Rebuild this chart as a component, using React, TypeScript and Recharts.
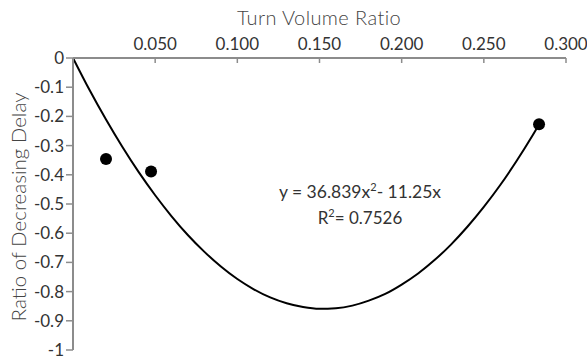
import React from 'react';
import { ComposedChart, XAxis, YAxis, Line, Scatter, Customized } from 'recharts';

// Trend line (read along the fitted curve y = 36.839x² - 11.25x)
const trendX = [0, 0.01, 0.02, 0.03, 0.04, 0.05, 0.06, 0.07, 0.08, 0.09, 0.1, 0.11, 0.12, 0.13, 0.14, 0.15, 0.16, 0.17, 0.18, 0.19, 0.2, 0.21, 0.22, 0.23, 0.24, 0.25, 0.26, 0.27, 0.28, 0.2836];
const trendY = [0, -0.109, -0.21, -0.304, -0.391, -0.47, -0.542, -0.607, -0.664, -0.714, -0.757, -0.792, -0.82, -0.84, -0.853, -0.859, -0.857, -0.848, -0.831, -0.808, -0.776, -0.738, -0.692, -0.639, -0.578, -0.51, -0.435, -0.352, -0.262, -0.228];

// Observed points
const pointX = [0.0201, 0.0475, 0.2836];
const pointY = [-0.346, -0.389, -0.227];

const xTicks = [0, 0.05, 0.1, 0.15, 0.2, 0.25, 0.3];
const yTicks = [0, -0.1, -0.2, -0.3, -0.4, -0.5, -0.6, -0.7, -0.8, -0.9, -1];

const xTitle = 'Turn Volume Ratio';
const yTitle = 'Ratio of Decreasing Delay';
const eqMain = 'y = 36.839x';
const eqTail = '- 11.25x';
const r2Main = 'R';
const r2Tail = '= 0.7526';

const trend = trendX.map((x, i) => ({ x, y: trendY[i] }));
const points = pointX.map((x, i) => ({ x, y: pointY[i] }));

const FONT = 'Lato, "Open Sans", sans-serif';
const AXIS = '#8c8c8c';
const TXT = '#333';

const XTick = (props: any) => {
  const { x, y, payload } = props;
  return (
    <g>
      <line x1={x} x2={x} y1={y + 8} y2={y + 13} stroke={AXIS} strokeWidth={1.5} />
      {payload.value !== 0 && (
        <text x={x} y={y} textAnchor="middle" fontSize={17} fontFamily={FONT} fill={TXT}>
          {payload.value.toFixed(3)}
        </text>
      )}
    </g>
  );
};

const YTick = (props: any) => {
  const { x, y, payload } = props;
  const v = payload.value;
  const s = v === 0 ? '0' : v === -1 ? '-1' : v.toFixed(1);
  return (
    <text x={x} y={y} dy={6} textAnchor="end" fontSize={17} fontFamily={FONT} fill={TXT}>
      {s}
    </text>
  );
};

const Dot = (props: any) => <circle cx={props.cx} cy={props.cy} r={6} fill="#000" />;

const Annotations = () => (
  <g fontFamily={FONT} fill={TXT}>
    <text x={319} y={25} textAnchor="middle" fontSize={20} fontWeight={300} letterSpacing={0.4} fill="#444">
      {xTitle}
    </text>
    <text transform="translate(26,207) rotate(-90)" textAnchor="middle" fontSize={20.5} fontWeight={300} fill="#444">
      {yTitle}
    </text>
    <text x={360} y={198} textAnchor="middle" fontSize={17.5}>
      {eqMain}
      <tspan dy={-7} fontSize={11}>2</tspan>
      <tspan dy={7}>{eqTail}</tspan>
    </text>
    <text x={360} y={224} textAnchor="middle" fontSize={17}>
      {r2Main}
      <tspan dy={-7} fontSize={11}>2</tspan>
      <tspan dy={7}>{r2Tail}</tspan>
    </text>
  </g>
);

export default function App() {
  return (
    <div style={{ position: 'absolute', left: 0, top: 0, width: 587, height: 360, background: '#fff' }}>
      <ComposedChart width={587} height={360} margin={{ top: 0, right: 21, bottom: 10, left: 0 }}>
        <XAxis
          type="number"
          dataKey="x"
          orientation="top"
          domain={[0, 0.3]}
          ticks={xTicks}
          height={58}
          tickSize={6}
          tickMargin={2}
          tickLine={false}
          tick={<XTick />}
          axisLine={{ stroke: AXIS, strokeWidth: 2 }}
          allowDataOverflow
        />
        <YAxis
          type="number"
          dataKey="y"
          domain={[-1, 0]}
          ticks={yTicks}
          width={73}
          tickSize={7}
          tickMargin={2}
          tickLine={{ stroke: AXIS, strokeWidth: 1.5 }}
          tick={<YTick />}
          axisLine={{ stroke: AXIS, strokeWidth: 2 }}
          allowDataOverflow
        />
        <Line
          data={trend}
          dataKey="y"
          type="monotone"
          stroke="#000"
          strokeWidth={2}
          dot={false}
          isAnimationActive={false}
        />
        <Scatter data={points} dataKey="y" fill="#000" shape={<Dot />} isAnimationActive={false} />
        <Customized component={Annotations} />
      </ComposedChart>
    </div>
  );
}
